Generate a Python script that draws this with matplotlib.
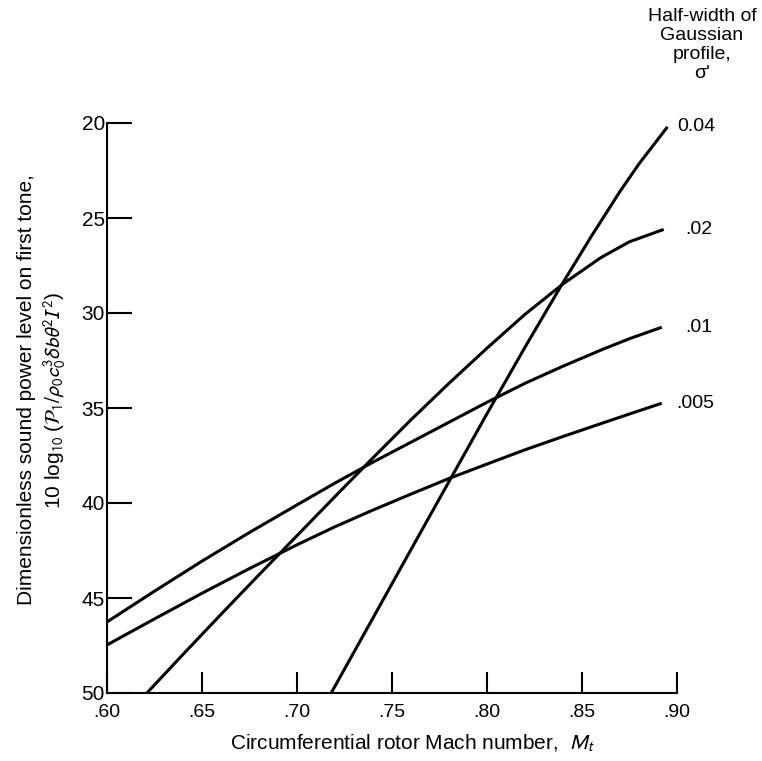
import matplotlib
matplotlib.use("Agg")
import matplotlib.pyplot as plt

# curves (Mach number, level)
mach_004 = [0.718, 0.74, 0.76, 0.78, 0.80, 0.82, 0.84, 0.855, 0.87, 0.88, 0.89, 0.895]
lvl_004 = [50.0, 46.05, 42.45, 38.87, 35.3, 31.8, 28.4, 25.95, 23.6, 22.15, 20.85, 20.2]

mach_002 = [0.621, 0.64, 0.66, 0.68, 0.70, 0.72, 0.74, 0.76, 0.78, 0.80, 0.82, 0.84, 0.86, 0.875, 0.893]
lvl_002 = [50.0, 47.97, 45.86, 43.78, 41.72, 39.66, 37.62, 35.62, 33.7, 31.85, 30.07, 28.47, 27.08, 26.25, 25.6]

mach_001 = [0.60, 0.625, 0.65, 0.675, 0.70, 0.72, 0.74, 0.76, 0.78, 0.80, 0.82, 0.84, 0.86, 0.875, 0.892]
lvl_001 = [46.26, 44.64, 43.06, 41.55, 40.1, 38.95, 37.85, 36.8, 35.75, 34.7, 33.7, 32.8, 31.95, 31.35, 30.75]

mach_0005 = [0.60, 0.625, 0.65, 0.675, 0.70, 0.72, 0.74, 0.76, 0.78, 0.80, 0.82, 0.84, 0.86, 0.876, 0.892]
lvl_0005 = [47.47, 46.1, 44.75, 43.45, 42.2, 41.25, 40.37, 39.53, 38.71, 37.95, 37.2, 36.5, 35.82, 35.28, 34.75]

curve_labels = ["0.04", ".02", ".01", ".005"]

x_ticks = [0.60, 0.65, 0.70, 0.75, 0.80, 0.85, 0.90]
x_ticklabels = [".60", ".65", ".70", ".75", ".80", ".85", ".90"]
y_ticks = [20, 25, 30, 35, 40, 45, 50]
y_ticklabels = ["20", "25", "30", "35", "40", "45", "50"]

plt.rcParams["font.family"] = ["Liberation Sans", "DejaVu Sans"]
plt.rcParams["mathtext.fontset"] = "stixsans"

fig = plt.figure(figsize=(7.62, 7.61), dpi=100)
ax = fig.add_axes([107 / 762, 68 / 761, 570 / 762, 570 / 761])

series = [(mach_004, lvl_004), (mach_002, lvl_002), (mach_001, lvl_001), (mach_0005, lvl_0005)]
for (m, l) in series:
    ax.plot(m, l, color="black", lw=2.2, solid_capstyle="butt", solid_joinstyle="round")

ax.set_xlim(0.60, 0.90)
ax.set_ylim(50, 20)

ax.spines["top"].set_visible(False)
ax.spines["right"].set_visible(False)
ax.spines["left"].set_linewidth(1.5)
ax.spines["bottom"].set_linewidth(1.5)

ax.set_xticks(x_ticks)
ax.set_xticklabels(x_ticklabels, fontsize=14)
ax.set_yticks(y_ticks)
ax.set_yticklabels(y_ticklabels, fontsize=15)
ax.tick_params(axis="x", direction="in", length=15, width=1.5, pad=8)
ax.tick_params(axis="y", direction="in", length=18, width=1.5, pad=1.5)

# labels at the right-hand ends of the curves
label_x = [0.900, 0.9045, 0.9045, 0.8995]
for i, (m, l) in enumerate(series):
    ax.text(label_x[i], l[-1], curve_labels[i], fontsize=14, ha="left", va="center",
            clip_on=False)

fig.text(702 / 762, 1 - 8 / 761, "Half-width of\nGaussian\nprofile,\n\u03c3'",
         ha="center", va="top", fontsize=14, linespacing=1.15)

fig.text(413 / 762, 1 - 743 / 761, "Circumferential rotor Mach number,  $\\mathit{M}_t$",
         ha="center", va="center", fontsize=15)

fig.text(27 / 762, 1 - 390 / 761, "Dimensionless sound power level on first tone,",
         rotation=90, ha="center", va="center", fontsize=15)
fig.text(55 / 762, 1 - 400 / 761,
         "10 log$_{10}$ ($\\mathcal{P}_1/\\rho_0 c_0^3 \\delta b \\theta^2 I^2$)",
         rotation=90, ha="center", va="center", fontsize=15)

fig.savefig("out.png", dpi=100)
